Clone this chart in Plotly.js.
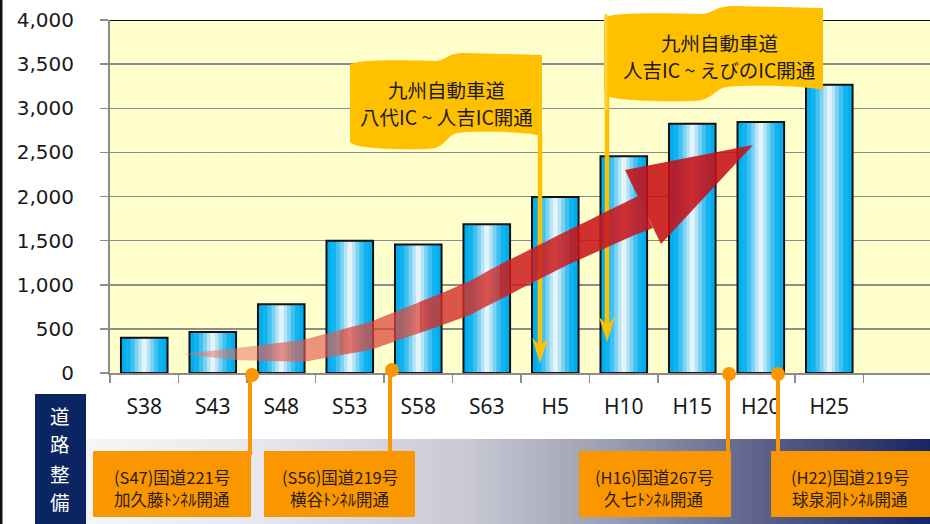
<!DOCTYPE html>
<html><head><meta charset="utf-8">
<script src="https://cdn.plot.ly/plotly-3.0.1.min.js"></script>
<style>html,body{margin:0;padding:0;background:#fff;overflow:hidden}#chart{width:930px;height:524px}</style>
</head><body><div id="chart"></div>
<script>
// ---- data ----
const categories = ['S38','S43','S48','S53','S58','S63','H5','H10','H15','H20','H25'];
const values = [400, 465, 780, 1500, 1455, 1685, 1995, 2455, 2825, 2845, 3265];
const yTickVals = [0, 500, 1000, 1500, 2000, 2500, 3000, 3500, 4000];
const flag1Lines = ['九州自動車道', '八代IC ~ 人吉IC開通'];
const flag2Lines = ['九州自動車道', '人吉IC ~ えびのIC開通'];
const callout1 = ['(S47)国道221号', '加久藤ﾄﾝﾈﾙ開通'];
const callout2 = ['(S56)国道219号', '横谷ﾄﾝﾈﾙ開通'];
const callout3 = ['(H16)国道267号', '久七ﾄﾝﾈﾙ開通'];
const callout4 = ['(H22)国道219号', '球泉洞ﾄﾝﾈﾙ開通'];
const sideLabel = ['道', '路', '整', '備'];

// ---- geometry helpers (pixel -> paper) ----
const W = 930, H = 524, L = 110, R = 930, T = 20, B = 373;
const px = x => (x - L) / (R - L);
const py = y => (B - y) / (B - T);
const pt = (x, y) => px(x).toFixed(5) + ',' + py(y).toFixed(5);

const shapes = [];
const annotations = [];

// bottom gradient band
const stops = [[86,[246,246,248]],[250,[232,232,237]],[460,[201,202,213]],[620,[152,154,174]],[760,[92,98,138]],[860,[52,62,112]],[931,[22,36,98]]];
function bandColor(x){
  for(let i=0;i<stops.length-1;i++){
    const a=stops[i], b=stops[i+1];
    if(x<=b[0]){const t=(x-a[0])/(b[0]-a[0]);
      const c=a[1].map((v,k)=>Math.round(v+(b[1][k]-v)*t));
      return 'rgb('+c.join(',')+')';}
  }
  return 'rgb(22,36,98)';
}
for(let x=86;x<930;x+=6){
  shapes.push({type:'rect',xref:'paper',yref:'paper',x0:px(x),x1:px(Math.min(x+6.6,931)),y0:py(524),y1:py(439),
    fillcolor:bandColor(x+3),line:{width:0},layer:'below'});
}
// navy side box
shapes.push({type:'rect',xref:'paper',yref:'paper',x0:px(35),x1:px(86),y0:py(524),y1:py(394),fillcolor:'#0b2462',line:{width:0}});
sideLabel.forEach((ch,i)=>{
  annotations.push({xref:'paper',yref:'paper',x:px(60),y:py(415+i*29),text:ch,showarrow:false,xanchor:'center',yanchor:'middle',
    borderpad:0,font:{family:'Noto Sans CJK JP',size:19.5,color:'#ffffff'}});
});
// left border
shapes.push({type:'rect',xref:'paper',yref:'paper',x0:px(0),x1:px(2.5),y0:py(524),y1:py(0),fillcolor:'#111',line:{width:0}});
// top frame line
shapes.push({type:'line',xref:'paper',yref:'y',x0:0,x1:1,y0:4000,y1:4000,line:{color:'#111',width:2.2}});

// flags
function flagPath(x0,x1,tL,tR,bL,bR){
  const w=x1-x0;
  return 'M'+pt(x0,tL+4)+' C'+pt(x0+0.02*w,tL-2)+' '+pt(x0+0.3*w,tL-1)+' '+pt(x0+0.44*w,tL)+
    ' C'+pt(x0+0.5*w,tL)+' '+pt(x0+0.5*w,tR)+' '+pt(x0+0.6*w,tR)+
    ' L'+pt(x1,tR+2)+' L'+pt(x1,bR+3)+
    ' C'+pt(x1-0.1*w,bR-2)+' '+pt(x0+0.62*w,bR-2)+' '+pt(x0+0.56*w,bR)+
    ' C'+pt(x0+0.5*w,bR+2)+' '+pt(x0+0.5*w,bL)+' '+pt(x0+0.4*w,bL)+
    ' C'+pt(x0+0.15*w,bL+1)+' '+pt(x0,bL-2)+' '+pt(x0,bL-8)+' Z';
}
const flagColor = '#FFC000';
function pole(x,yTop,yTip){
  shapes.push({type:'line',xref:'paper',yref:'paper',x0:px(x),x1:px(x),y0:py(yTop),y1:py(yTip-14),line:{color:flagColor,width:4.5}});
  shapes.push({type:'path',xref:'paper',yref:'paper',path:'M'+pt(x-8,yTip-25)+' L'+pt(x,yTip-17)+' L'+pt(x+8,yTip-25)+' L'+pt(x,yTip)+' Z',
    fillcolor:flagColor,line:{width:0}});
}
pole(540,133,363);
pole(607,60,342);

// red arrow (decoration): smooth body drawn in slices for a colour gradient
const upX = [183,237,303,370,437,470,497,563,638];
const upY = [354,348,340,322,295,281,266,233,196];
const loX = [183,237,303,370,437,470,497,563,630,653];
const loY = [354,360,362,350,327,315,301,267,237,228];
function interp(xs,ys,x){
  if(x<=xs[0]) return ys[0];
  for(let i=0;i<xs.length-1;i++){ if(x<=xs[i+1]){const t=(x-xs[i])/(xs[i+1]-xs[i]); return ys[i]+(ys[i+1]-ys[i])*t;} }
  return ys[ys.length-1];
}
const sliceEdges = [183,260,340,420,500,570];
const sliceCols = ['rgba(232,115,100,0.55)','rgba(226,92,80,0.66)','rgba(220,70,60,0.74)','rgba(212,45,42,0.81)','rgba(205,28,30,0.86)','rgba(200,20,25,0.88)'];
for(let s=0;s<sliceEdges.length;s++){
  const a=sliceEdges[s];
  const last = s===sliceEdges.length-1;
  const bU = last?638:sliceEdges[s+1]+0.6, bL = last?653:sliceEdges[s+1]+0.6;
  let p='';
  const n=8;
  for(let k=0;k<=n;k++){const x=a+(bU-a)*k/n; p+=(k?' L':'M')+pt(x,interp(upX,upY,x));}
  for(let k=n;k>=0;k--){const x=a+(bL-a)*k/n; p+=' L'+pt(x,interp(loX,loY,x));}
  p+=' Z';
  shapes.push({type:'path',xref:'paper',yref:'paper',path:p,fillcolor:sliceCols[s],line:{width:0}});
}
shapes.push({type:'path',xref:'paper',yref:'paper',
  path:'M'+pt(625,170)+' L'+pt(753,145)+' L'+pt(661,244)+' Z',fillcolor:'rgba(200,15,22,0.88)',line:{width:0}});

// flag bodies
shapes.push({type:'path',xref:'paper',yref:'paper',path:flagPath(350,542,61,53,149,133),fillcolor:flagColor,line:{width:0}});
shapes.push({type:'path',xref:'paper',yref:'paper',path:flagPath(604,823,14,6,101,87),fillcolor:flagColor,line:{width:0}});
shapes.push({type:'line',xref:'paper',yref:'paper',x0:px(606),x1:px(606),y0:py(14),y1:py(110),line:{color:'#FFD23A',width:3}});

const flagFont = {family:'Noto Sans CJK JP',size:19.5,color:'#1a1a1a'};
function flagText(x,y,t){annotations.push({xref:'paper',yref:'paper',x:px(x),y:py(y),text:t,showarrow:false,xanchor:'center',yanchor:'middle',borderpad:0,font:flagFont});}
flagText(446,90,flag1Lines[0]);
flagText(446,117,flag1Lines[1]);
flagText(719,42,flag2Lines[0]);
flagText(719,69,flag2Lines[1]);

// callouts
const orange = '#FA9600';
function callout(lines, bx0, bx1, lineX, dotX, dotY, tx){
  shapes.push({type:'line',xref:'paper',yref:'paper',x0:px(lineX),x1:px(lineX),y0:py(dotY),y1:py(455),line:{color:orange,width:4}});
  shapes.push({type:'circle',xref:'paper',yref:'paper',x0:px(dotX-7),x1:px(dotX+7),y0:py(dotY+7),y1:py(dotY-7),fillcolor:orange,line:{width:0}});
  shapes.push({type:'rect',xref:'paper',yref:'paper',x0:px(bx0),x1:px(bx1),y0:py(517),y1:py(451),fillcolor:orange,line:{width:0}});
  lines.forEach((ln,i)=>{
    annotations.push({xref:'paper',yref:'paper',x:px(tx),y:py(477+i*21.5),text:ln,showarrow:false,xanchor:'center',yanchor:'middle',
      borderpad:0,font:{family:'Noto Sans CJK JP',size:16.5,color:'#2a1d05'}});
  });
}
callout(callout1, 93, 251, 250, 252, 375, 172);
callout(callout2, 264, 415, 390, 392, 370, 340);
callout(callout3, 579, 731, 728, 729, 374, 654);
callout(callout4, 771, 930, 778, 778, 374, 850);

// ---- bars: layered overlays to mimic cylinder shading ----
const layers = [
  {w:0.68,c:'#00AEEF'},{w:0.54,c:'#12B4F0'},{w:0.40,c:'#40C1F1'},
  {w:0.28,c:'#7BD3F3'},{w:0.17,c:'#B4E4F6'},{w:0.07,c:'#E6F4F9'}
];
const traces = layers.map(l=>({type:'bar',x:categories,y:values,width:l.w,marker:{color:l.c,line:{width:0}},hoverinfo:'skip'}));
traces.push({type:'bar',x:categories,y:values,width:0.68,marker:{color:'rgba(0,0,0,0)',line:{color:'#111',width:2}},hoverinfo:'skip'});

const layout = {
  width:W,height:H,margin:{l:L,r:W-R,t:T,b:H-B,pad:0},
  paper_bgcolor:'#ffffff',plot_bgcolor:'#FFFFCC',
  showlegend:false,barmode:'overlay',
  xaxis:{type:'category',categoryorder:'array',categoryarray:categories,range:[-0.5,11.47],
    tickson:'boundaries',ticks:'outside',ticklen:8,tickcolor:'#8c8c8c',tickwidth:1.5,
    showline:true,linecolor:'#8c8c8c',linewidth:2,showgrid:false,
    ticklabelstandoff:14,tickfont:{family:'Noto Sans',size:21,color:'#1a1a1a'}},
  yaxis:{range:[0,4000],tickvals:yTickVals,tickformat:',d',ticks:'outside',ticklen:8,tickcolor:'#8c8c8c',tickwidth:1.5,
    showline:true,linecolor:'#8c8c8c',linewidth:2,showgrid:true,gridcolor:'#8c8c8c',gridwidth:1.5,zeroline:false,
    ticklabelstandoff:22,tickfont:{family:'DejaVu Sans',size:20,color:'#1a1a1a'}},
  shapes:shapes,annotations:annotations
};
Plotly.newPlot('chart',traces,layout,{staticPlot:true,displayModeBar:false});
</script></body></html>
